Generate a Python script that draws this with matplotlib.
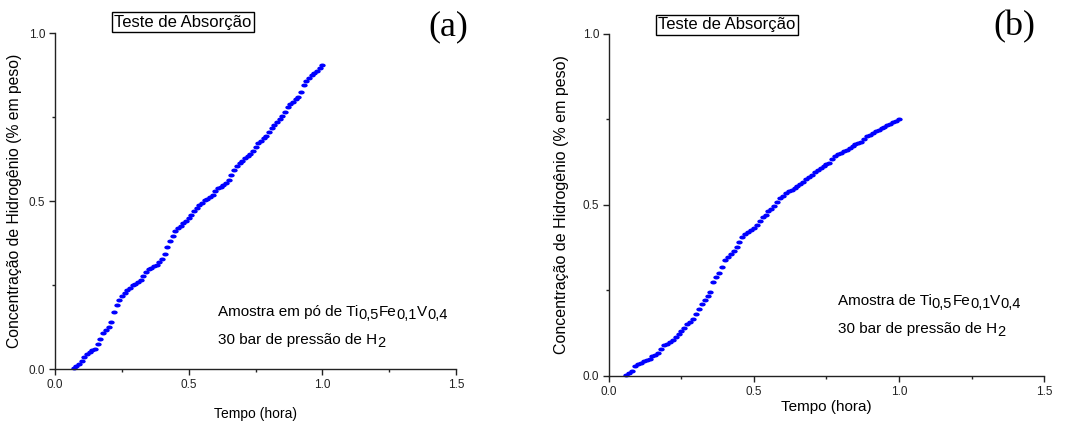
import matplotlib
matplotlib.use("Agg")
import matplotlib.pyplot as plt
import numpy as np
from matplotlib.path import Path
from matplotlib.text import Annotation
from matplotlib.ticker import MultipleLocator, FormatStrFormatter

plt.rcParams['font.family'] = ['Liberation Sans', 'DejaVu Sans']

# absorption test (a): powder sample
tempo_a = [0.07, 0.08, 0.09, 0.10, 0.11, 0.12, 0.13, 0.14, 0.15, 0.16,
           0.17, 0.18, 0.19, 0.20, 0.21, 0.22, 0.23, 0.24, 0.25, 0.26,
           0.27, 0.28, 0.29, 0.30, 0.31, 0.32, 0.33, 0.34, 0.35, 0.36,
           0.37, 0.38, 0.39, 0.40, 0.41, 0.42, 0.43, 0.44, 0.45, 0.46,
           0.47, 0.48, 0.49, 0.50, 0.51, 0.52, 0.53, 0.54, 0.55, 0.56,
           0.57, 0.58, 0.59, 0.60, 0.61, 0.62, 0.63, 0.64, 0.65, 0.66,
           0.67, 0.68, 0.69, 0.70, 0.71, 0.72, 0.73, 0.74, 0.75, 0.76,
           0.77, 0.78, 0.79, 0.80, 0.81, 0.82, 0.83, 0.84, 0.85, 0.86,
           0.87, 0.88, 0.89, 0.90, 0.91, 0.92, 0.93, 0.94, 0.95, 0.96,
           0.97, 0.98, 0.99, 1.00]
conc_a = [0.004, 0.010, 0.016, 0.025, 0.037, 0.046, 0.052, 0.056, 0.060, 0.075,
          0.090, 0.107, 0.116, 0.124, 0.140, 0.170, 0.190, 0.206, 0.217, 0.226,
          0.234, 0.242, 0.249, 0.254, 0.259, 0.264, 0.276, 0.290, 0.297, 0.301,
          0.306, 0.311, 0.319, 0.328, 0.342, 0.363, 0.381, 0.396, 0.411, 0.419,
          0.427, 0.434, 0.442, 0.450, 0.458, 0.469, 0.479, 0.487, 0.495, 0.502,
          0.507, 0.513, 0.518, 0.529, 0.538, 0.543, 0.548, 0.553, 0.564, 0.577,
          0.593, 0.604, 0.612, 0.620, 0.627, 0.633, 0.640, 0.648, 0.662, 0.673,
          0.680, 0.688, 0.695, 0.706, 0.716, 0.725, 0.735, 0.744, 0.753, 0.766,
          0.779, 0.788, 0.796, 0.804, 0.811, 0.825, 0.846, 0.857, 0.866, 0.876,
          0.882, 0.888, 0.897, 0.905]

# absorption test (b)
tempo_b = [0.06, 0.07, 0.08, 0.09, 0.10, 0.11, 0.12, 0.13, 0.14, 0.15,
           0.16, 0.17, 0.18, 0.19, 0.20, 0.21, 0.22, 0.23, 0.24, 0.25,
           0.26, 0.27, 0.28, 0.29, 0.30, 0.31, 0.32, 0.33, 0.34, 0.35,
           0.36, 0.37, 0.38, 0.39, 0.40, 0.41, 0.42, 0.43, 0.44, 0.45,
           0.46, 0.47, 0.48, 0.49, 0.50, 0.51, 0.52, 0.53, 0.54, 0.55,
           0.56, 0.57, 0.58, 0.59, 0.60, 0.61, 0.62, 0.63, 0.64, 0.65,
           0.66, 0.67, 0.68, 0.69, 0.70, 0.71, 0.72, 0.73, 0.74, 0.75,
           0.76, 0.77, 0.78, 0.79, 0.80, 0.81, 0.82, 0.83, 0.84, 0.85,
           0.86, 0.87, 0.88, 0.89, 0.90, 0.91, 0.92, 0.93, 0.94, 0.95,
           0.96, 0.97, 0.98, 0.99, 1.00]
conc_b = [0.003, 0.008, 0.014, 0.030, 0.034, 0.039, 0.043, 0.047, 0.051, 0.057,
          0.062, 0.068, 0.080, 0.090, 0.094, 0.098, 0.104, 0.113, 0.122, 0.131,
          0.141, 0.151, 0.159, 0.168, 0.182, 0.196, 0.210, 0.222, 0.233, 0.245,
          0.274, 0.288, 0.301, 0.320, 0.338, 0.348, 0.357, 0.366, 0.376, 0.392,
          0.407, 0.416, 0.422, 0.428, 0.434, 0.441, 0.453, 0.465, 0.472, 0.481,
          0.488, 0.496, 0.508, 0.520, 0.527, 0.534, 0.540, 0.545, 0.550, 0.556,
          0.562, 0.568, 0.575, 0.582, 0.589, 0.595, 0.602, 0.608, 0.613, 0.619,
          0.624, 0.634, 0.644, 0.649, 0.653, 0.657, 0.661, 0.666, 0.673, 0.678,
          0.681, 0.685, 0.692, 0.702, 0.706, 0.711, 0.715, 0.719, 0.724, 0.728,
          0.733, 0.737, 0.742, 0.747, 0.751]

x_ticks = [0.0, 0.5, 1.0, 1.5]
y_ticks = [0.0, 0.5, 1.0]

# slightly wide oval dots
t = np.linspace(0, 2 * np.pi, 40)
oval = Path(np.column_stack([np.cos(t), 0.62 * np.sin(t)]))

fig = plt.figure(figsize=(10.71, 4.21), dpi=100)
ax_a = fig.add_axes([0.0514, 0.1235, 0.3744, 0.798])
ax_b = fig.add_axes([0.5686, 0.1069, 0.4062, 0.8124])

for ax, x, y in [(ax_a, tempo_a, conc_a), (ax_b, tempo_b, conc_b)]:
    ax.plot(x, y, linestyle='none', marker=oval, markersize=4.6,
            color='#0000ff', markeredgewidth=0, clip_on=False)
    ax.set_xlim(0, 1.5)
    ax.set_ylim(0, 1.0)
    ax.set_xticks(x_ticks)
    ax.set_yticks(y_ticks)
    ax.xaxis.set_minor_locator(MultipleLocator(0.25))
    ax.yaxis.set_minor_locator(MultipleLocator(0.25))
    ax.xaxis.set_major_formatter(FormatStrFormatter('%.1f'))
    ax.yaxis.set_major_formatter(FormatStrFormatter('%.1f'))
    ax.spines['top'].set_visible(False)
    ax.spines['right'].set_visible(False)
    for s in ['left', 'bottom']:
        ax.spines[s].set_linewidth(1.0)
        ax.spines[s].set_color('#222222')
    ax.tick_params(which='major', direction='out', length=4, width=1,
                   labelsize=8.5, colors='#222222', pad=3)
    ax.tick_params(which='minor', direction='out', length=2.5, width=1,
                   colors='#222222')

ax_a.set_xlabel('Tempo (hora)', fontsize=10, labelpad=12)
ax_b.set_xlabel('Tempo (hora)', fontsize=11, labelpad=2)
ylab = 'Concentração de Hidrogênio (% em peso)'
ax_a.set_ylabel(ylab, fontsize=11.3, labelpad=5)
ax_b.set_ylabel(ylab, fontsize=11.5, labelpad=10)

box = dict(boxstyle='square,pad=0.15', facecolor='white', edgecolor='black', linewidth=1)
fig.text(183 / 1071, 1 - 22 / 421, 'Teste de Absorção', fontsize=12,
         ha='center', va='center', bbox=box)
fig.text(727 / 1071, 1 - 25 / 421, 'Teste de Absorção', fontsize=12,
         ha='center', va='center', bbox=box)

fig.text(448 / 1071, 1 - 27 / 421, '(a)', fontsize=26, family='Liberation Serif',
         ha='center', va='center')
fig.text(1014 / 1071, 1 - 27 / 421, '(b)', fontsize=26, family='Liberation Serif',
         ha='center', va='center')


def formula_text(x, y, parts, size=11, sub_size=10.5, sub_drop=2.5):
    """Write text pieces one after another; pieces flagged True are subscripts."""
    last = None
    for s, sub in parts:
        dy = -sub_drop if sub else 0
        fs = sub_size if sub else size
        if last is None:
            last = fig.text(x, y, s, fontsize=fs, ha='left', va='baseline')
            continue
        ann = Annotation(s, xy=(1, y), xycoords=(last, fig.transFigure),
                         xytext=(0, dy), textcoords='offset points',
                         fontsize=fs, ha='left', va='baseline')
        fig.add_artist(ann)
        last = ann


formula_text(218 / 1071, 1 - 316 / 421,
             [('Amostra em pó de Ti', False), ('0,5', True), ('Fe', False),
              ('0,1', True), ('V', False), ('0,4', True)])
formula_text(218 / 1071, 1 - 344 / 421,
             [('30 bar de pressão de H', False), ('2', True)])
formula_text(838 / 1071, 1 - 305 / 421,
             [('Amostra de Ti', False), ('0,5', True), ('Fe', False),
              ('0,1', True), ('V', False), ('0,4', True)])
formula_text(838 / 1071, 1 - 333 / 421,
             [('30 bar de pressão de H', False), ('2', True)])

fig.savefig('out.png', dpi=100)
